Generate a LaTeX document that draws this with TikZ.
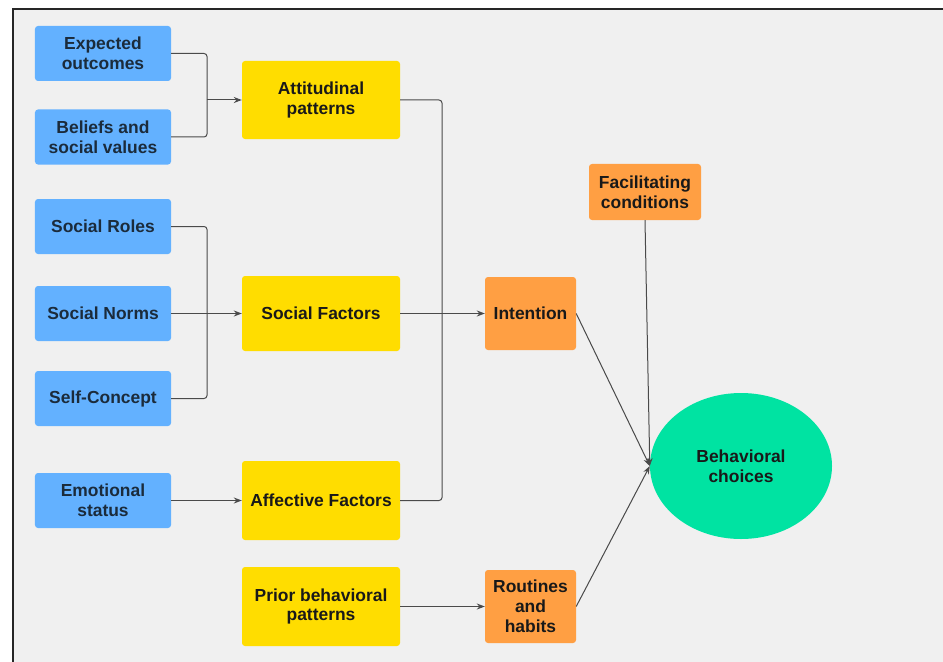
\documentclass[tikz,border=0pt]{standalone}
\usepackage{fontspec}
\setmainfont{Liberation Sans}
\usetikzlibrary{arrows.meta,shapes.geometric}
\definecolor{bluebox}{HTML}{63B1FF}
\definecolor{yellowbox}{HTML}{FFDD00}
\definecolor{orangebox}{HTML}{FF9F43}
\definecolor{greenbox}{HTML}{00E3A2}
\definecolor{panel}{HTML}{F0F0F0}
\definecolor{bluetext}{HTML}{1B2B3B}
\definecolor{linegray}{HTML}{4A4A4A}
\begin{document}
\begin{tikzpicture}[x=1bp,y=-1bp,
  basebox/.style={rounded corners=3bp, inner sep=0pt, align=center,
    font=\fontsize{17.5}{20}\selectfont\bfseries},
  bluenode/.style={basebox, fill=bluebox, text=bluetext, minimum width=136bp, minimum height=55bp},
  yellownode/.style={basebox, fill=yellowbox, text=black!90, minimum width=158bp, minimum height=78bp},
  orangenode/.style={basebox, fill=orangebox, text=black!90},
  conn/.style={draw=linegray, line width=1bp, rounded corners=3bp},
  arr/.style={conn, -{Stealth[length=8bp,width=6bp]}}
]
\useasboundingbox (0,0) rectangle (943,662);
\fill[white] (0,0) rectangle (943,662);
\fill[panel] (13,9) rectangle (945,664);
\draw[line width=2bp, black!85] (13,664) -- (13,9) -- (945,9);

% blue boxes
\node[bluenode] (eo) at (103,53.5) {Expected\\outcomes};
\node[bluenode] (bs) at (103,137) {Beliefs and\\social values};
\node[bluenode] (sr) at (103,226.5) {Social Roles};
\node[bluenode] (sn) at (103,313.5) {Social Norms};
\node[bluenode] (sc) at (103,398.5) {Self-Concept};
\node[bluenode] (es) at (103,500.5) {Emotional\\status};

% yellow boxes
\node[yellownode] (att) at (321,100) {Attitudinal\\patterns};
\node[yellownode, minimum height=75bp] (sf) at (321,313.5) {Social Factors};
\node[yellownode, minimum height=79bp] (af) at (321,500.5) {Affective Factors};
\node[yellownode, minimum height=79bp] (pb) at (321,606.5) {Prior behavioral\\patterns};

% orange boxes
\node[orangenode, minimum width=91bp, minimum height=73bp] (int) at (530.5,313.5) {Intention};
\node[orangenode, minimum width=112bp, minimum height=56bp] (fac) at (645,192) {Facilitating\\conditions};
\node[orangenode, minimum width=91bp, minimum height=73bp] (rh) at (530.5,606.5) {Routines\\and\\habits};

% ellipse
\node[ellipse, fill=greenbox, inner sep=0pt, minimum width=182bp, minimum height=146bp,
  align=center, font=\fontsize{17.5}{20}\selectfont\bfseries, text=black!90] (bc) at (741,466) {Behavioral\\choices};

% junctions
\coordinate (j1) at (207,100);
\coordinate (j2) at (207,313.5);
\coordinate (j3) at (442,313.5);

\draw[conn] (eo.east) -| (j1);
\draw[conn] (bs.east) -| (j1);
\draw[arr] (j1) -- (att.west);

\draw[conn] (sr.east) -| (j2);
\draw[conn] (sc.east) -| (j2);
\draw[arr] (sn.east) -- (sf.west);

\draw[arr] (es.east) -- (af.west);

\draw[conn] (att.east) -| (j3);
\draw[conn] (af.east) -| (j3);
\draw[arr] (sf.east) -- (int.west);

\draw[arr] (pb.east) -- (rh.west);

\draw[arr] (int.east) -- (bc.west);
\draw[arr] (fac.south) -- (bc.west);
\draw[arr] (rh.east) -- (bc.west);
\end{tikzpicture}
\end{document}
